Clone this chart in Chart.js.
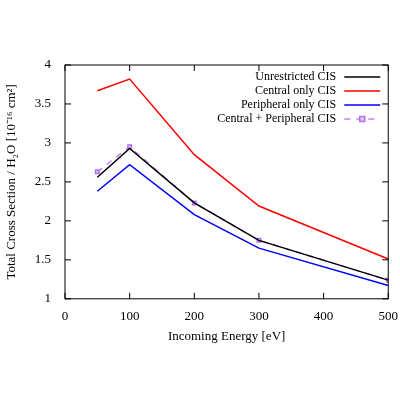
<!DOCTYPE html>
<html><head>
<script src="https://cdn.jsdelivr.net/npm/chart.js@4/dist/chart.umd.min.js"></script>
<style>body{margin:0;background:#fff}#wrap{width:400px;height:400px}</style>
</head><body>
<div id="wrap"><canvas id="grafico"></canvas></div>
<script>
const energias    = [50, 100, 200, 300, 500];
const irrestrito  = [2.56, 2.93, 2.23, 1.75, 1.24];
const central     = [3.67, 3.82, 2.85, 2.19, 1.51];
const periferico  = [2.38, 2.72, 2.08, 1.65, 1.17];
const combinado   = [2.63, 2.95, 2.23, 1.75, 1.24];
const ticksX      = [0, 100, 200, 300, 400, 500];
const ticksY      = [1, 1.5, 2, 2.5, 3, 3.5, 4];

const fonte = 'Liberation Serif';
const pts = arr => arr.map((v, i) => ({ x: energias[i], y: v }));

const series = [
    { label: 'Unrestricted CIS', data: pts(irrestrito), borderColor: '#000000', borderWidth: 1.5, pointRadius: 0 },
    { label: 'Central only CIS', data: pts(central), borderColor: '#ff0000', borderWidth: 1.5, pointRadius: 0 },
    { label: 'Peripheral only CIS', data: pts(periferico), borderColor: '#0000ff', borderWidth: 1.5, pointRadius: 0 },
    { label: 'Central + Peripheral CIS', data: pts(combinado), borderColor: '#c080ff', borderWidth: 1.5,
      borderDash: [6, 6], pointStyle: 'rect', pointRadius: 2.5, pointBorderColor: '#b070f0', pointBackgroundColor: '#e0c8ff' }
];

// ticks internos e legenda estilo gnuplot
const estiloGnuplot = {
    id: 'estiloGnuplot',
    afterDatasetsDraw(chart) {
        const { ctx, chartArea: a, scales: { x, y } } = chart;
        ctx.save();
        ctx.strokeStyle = '#000'; ctx.lineWidth = 1;
        ctx.strokeRect(a.left, a.top, a.right - a.left, a.bottom - a.top);
        ctx.beginPath();
        ticksX.forEach(t => { const p = x.getPixelForValue(t);
            ctx.moveTo(p, a.bottom); ctx.lineTo(p, a.bottom - 6);
            ctx.moveTo(p, a.top); ctx.lineTo(p, a.top + 6); });
        ticksY.forEach(t => { const p = y.getPixelForValue(t);
            ctx.moveTo(a.left, p); ctx.lineTo(a.left + 6, p);
            ctx.moveTo(a.right, p); ctx.lineTo(a.right - 6, p); });
        ctx.stroke();
        ctx.font = '12px "' + fonte + '"';
        ctx.textAlign = 'right'; ctx.textBaseline = 'middle';
        series.forEach((s, i) => {
            const yy = a.top + 12 + i * 14;
            ctx.fillStyle = '#000';
            ctx.fillText(s.label, a.right - 52, yy);
            ctx.strokeStyle = s.borderColor; ctx.lineWidth = 1.5;
            ctx.setLineDash(s.borderDash || []);
            ctx.beginPath(); ctx.moveTo(a.right - 44, yy); ctx.lineTo(a.right - 8, yy); ctx.stroke();
            ctx.setLineDash([]);
            if (s.pointRadius) {
                ctx.fillStyle = s.pointBackgroundColor; ctx.strokeStyle = s.pointBorderColor;
                ctx.fillRect(a.right - 28.5, yy - 2.5, 5, 5); ctx.strokeRect(a.right - 28.5, yy - 2.5, 5, 5);
            }
        });
        ctx.restore();
    }
};

new Chart(document.getElementById('grafico'), {
    type: 'line',
    data: { datasets: series },
    options: {
        responsive: true, maintainAspectRatio: false, animation: false,
        layout: { padding: { top: 65, right: 11, left: 0, bottom: 52 } },
        plugins: { legend: { display: false }, tooltip: { enabled: false } },
        scales: {
            x: {
                type: 'linear', min: 0, max: 500,
                afterBuildTicks: s => { s.ticks = ticksX.map(v => ({ value: v })); },
                grid: { display: false }, border: { display: false },
                ticks: { color: '#000', font: { family: fonte, size: 13 }, padding: 2 },
                title: { display: true, text: 'Incoming Energy [eV]', color: '#000', font: { family: fonte, size: 13 }, padding: { top: 2 } }
            },
            y: {
                min: 1, max: 4,
                afterBuildTicks: s => { s.ticks = ticksY.map(v => ({ value: v })); },
                afterFit: s => { s.width = 65; },
                grid: { display: false }, border: { display: false },
                ticks: { color: '#000', font: { family: fonte, size: 13 }, padding: 6, callback: v => String(v) },
                title: { display: true, text: 'Total Cross Section / H\u2082O [10\u207B\u00B9\u2076 cm\u00B2]', color: '#000', font: { family: fonte, size: 13 }, padding: { bottom: 4 } }
            }
        }
    },
    plugins: [estiloGnuplot]
});
</script>
</body></html>
